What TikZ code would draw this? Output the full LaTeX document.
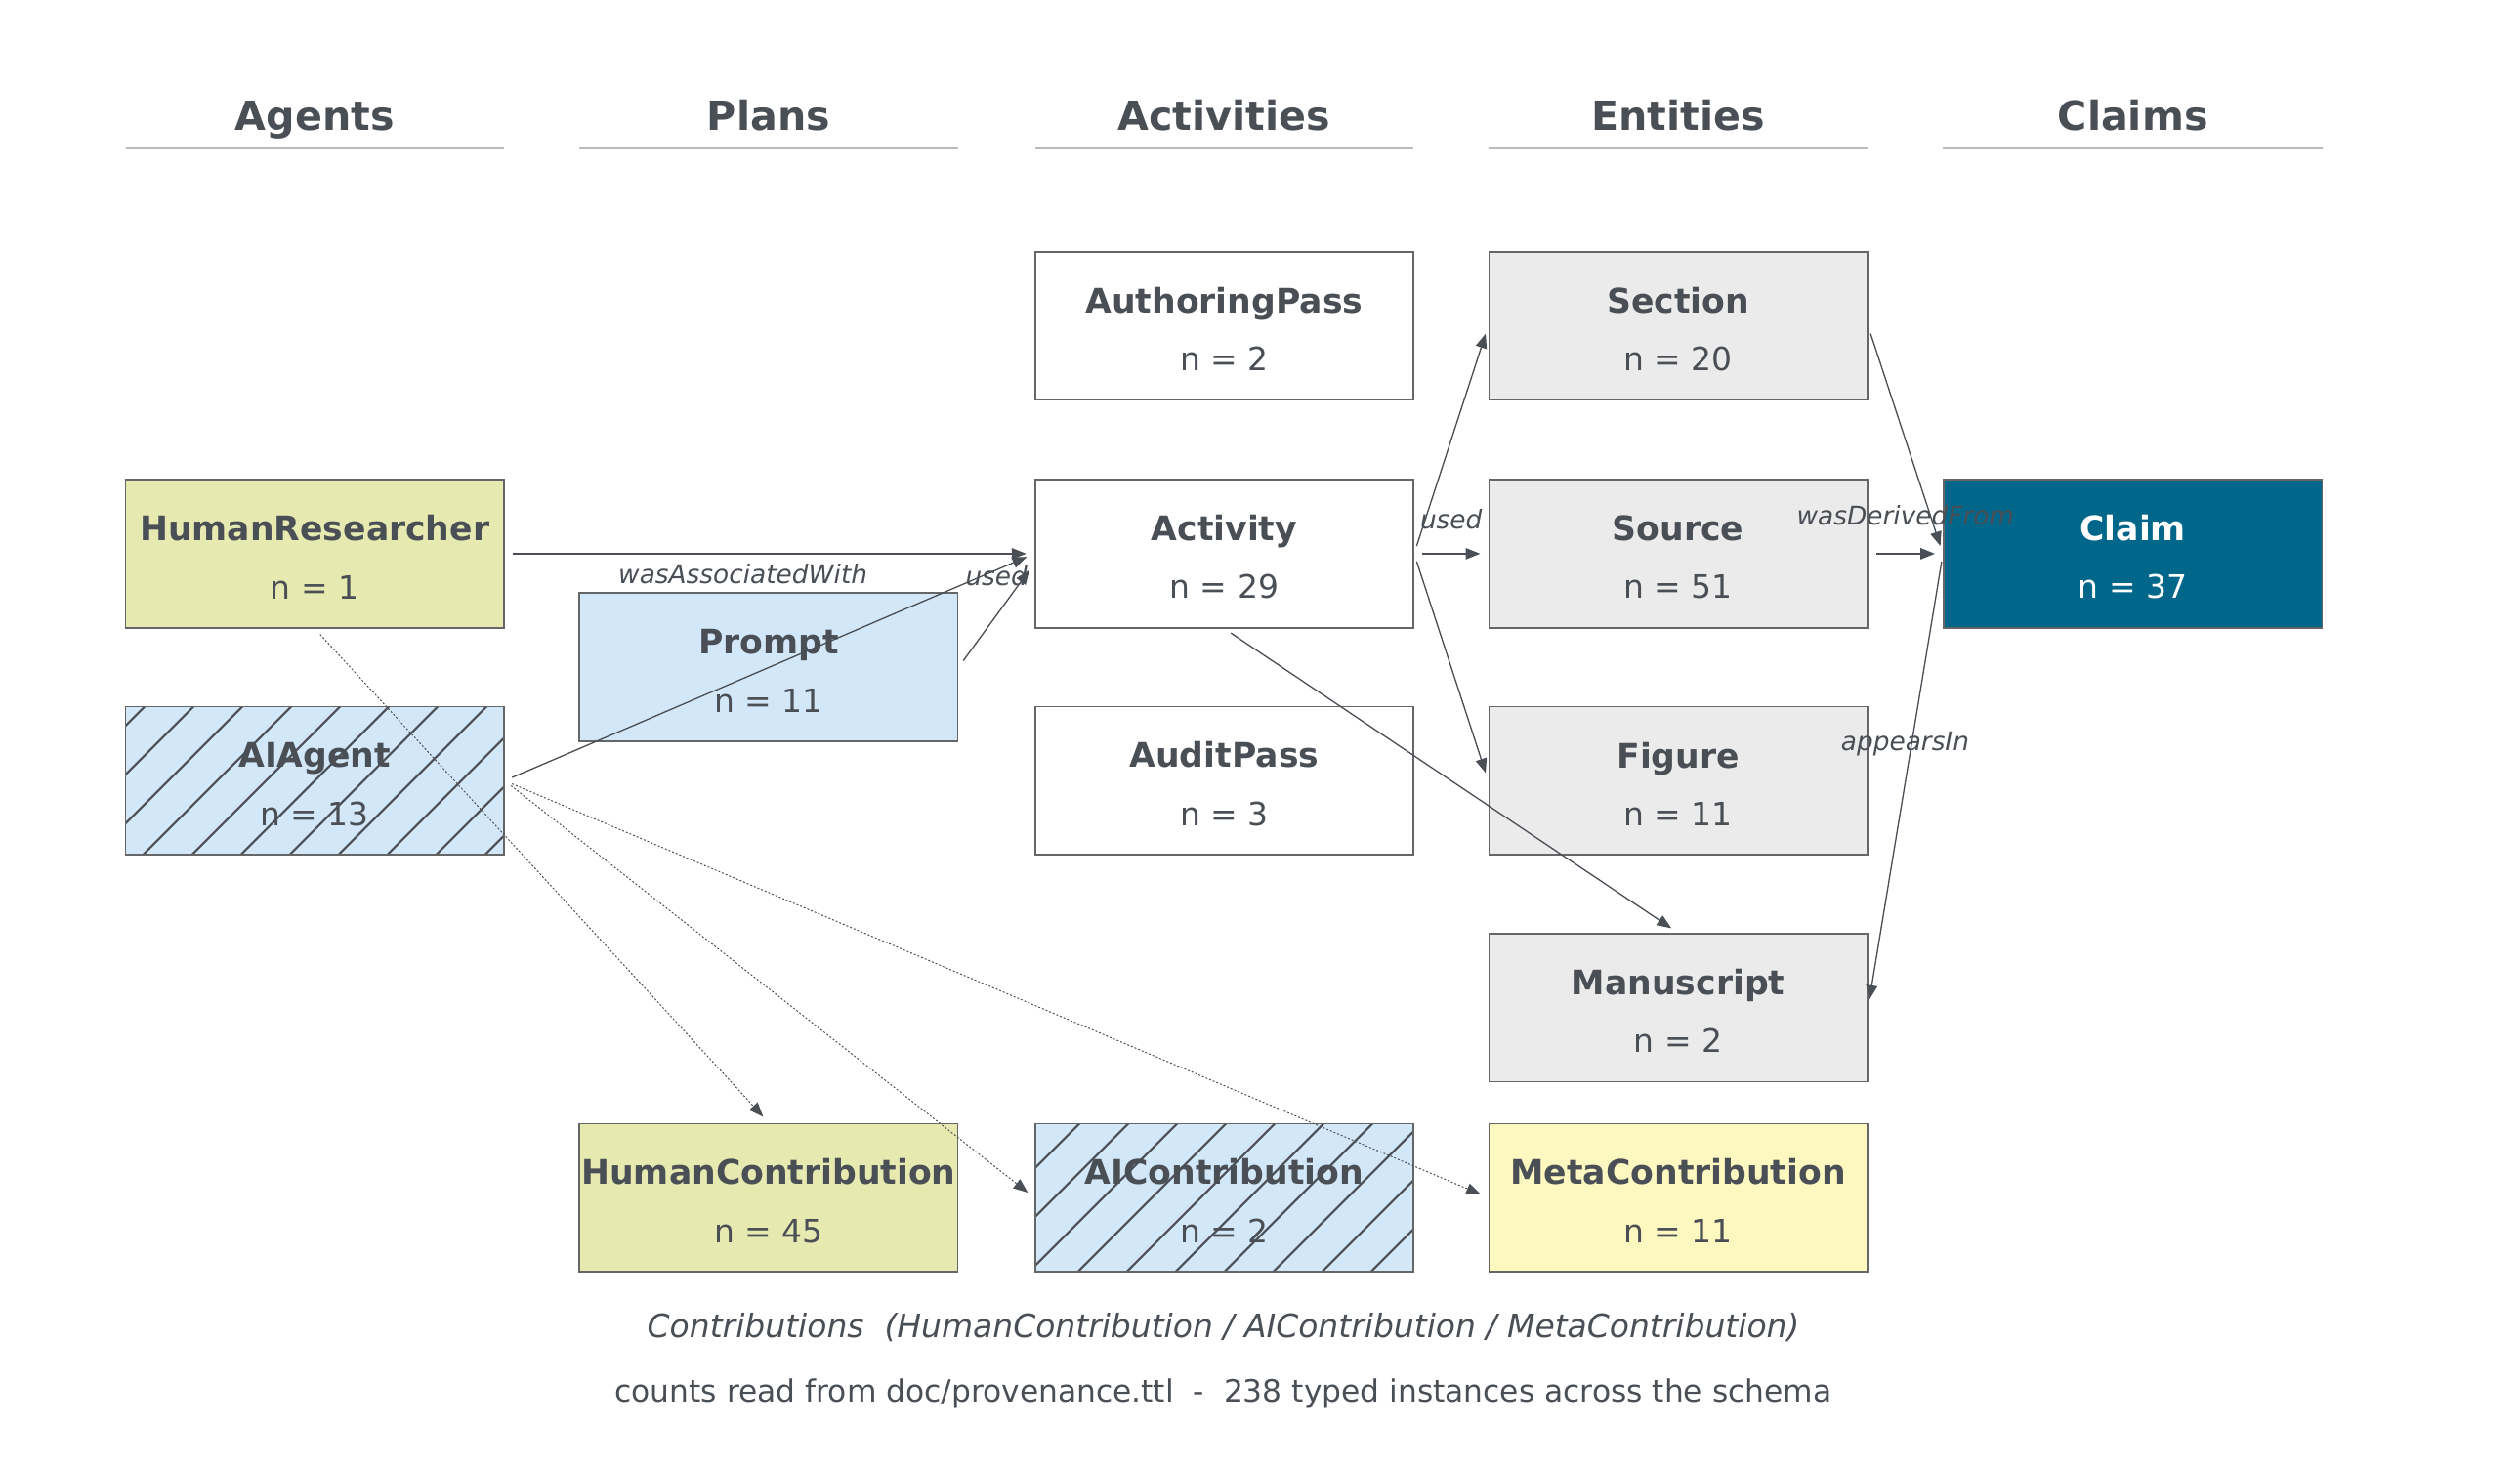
\documentclass[tikz,border=0pt]{standalone}
\usepackage{fontspec}
\setmainfont{DejaVu Sans}
\usetikzlibrary{arrows.meta}

\definecolor{ink}{HTML}{4A4F55}
\definecolor{frame}{HTML}{666666}
\definecolor{rulegray}{HTML}{BBBBBB}
\definecolor{humanfill}{HTML}{E6E9B0}
\definecolor{aifill}{HTML}{D2E7F8}
\definecolor{entityfill}{HTML}{EBEBEB}
\definecolor{claimfill}{HTML}{00668A}
\definecolor{metafill}{HTML}{FDF7C0}

\newcommand{\clsname}[1]{{\fontsize{21}{36}\selectfont\bfseries\rule{0pt}{20pt}#1}}

\begin{document}
\begin{tikzpicture}[x=1pt, y=-1pt]
  \tikzstyle{cls}=[rectangle, draw=frame, line width=1pt, fill=white, minimum width=235pt, minimum height=92pt, inner sep=0pt, text=ink, align=center, font=\fontsize{20}{36}\selectfont]
  % hatching: lines x + y = phase + k * 30.34 in the node's own frame
  \tikzset{hatched/.style={path picture={
      \foreach \k in {-7,...,7}
        \draw[draw=ink, line width=1.3pt] (#1+\k*30.34+150, -150) -- ++(-300, 300);
    }}}
  \tikzstyle{lane}=[font=\fontsize{25}{30}\selectfont\bfseries, text=ink, anchor=base]
  \tikzstyle{rule}=[draw=rulegray, line width=1.2pt]
  \tikzstyle{flow}=[draw=ink, line width=0.8pt, -{Triangle[length=9pt,width=7pt]}, shorten <=5pt, shorten >=5pt]
  \tikzstyle{credit}=[flow, line width=0.6pt, dash pattern=on 1.2pt off 1.2pt]
  \tikzstyle{rel}=[font=\fontsize{16}{19}\selectfont\itshape, text=ink, inner sep=2pt]

  \useasboundingbox (0,0) rectangle (1565.5,910.2);

  \node[lane] (hagents)     at (195.5,  81) {Agents};
  \node[lane] (hplans)      at (477.5,  81) {Plans};
  \node[lane] (hactivities) at (760.5,  81) {Activities};
  \node[lane] (hentities)   at (1042.5, 81) {Entities};
  \node[lane] (hclaims)     at (1325,   81) {Claims};

  \draw[rule] (78,   92) -- (313,  92);
  \draw[rule] (360,  92) -- (595,  92);
  \draw[rule] (643,  92) -- (878,  92);
  \draw[rule] (925,  92) -- (1160, 92);
  \draw[rule] (1207, 92) -- (1443, 92);

  \node[cls, fill=humanfill]             (hr)     at (195.5, 344)   {\clsname{HumanResearcher}\\n = 1};
  \node[cls, fill=aifill, hatched=19.5]  (ai)     at (195.5, 485)   {\clsname{AIAgent}\\n = 13};

  \node[cls, fill=aifill]                (prompt) at (477.5, 414.5) {\clsname{Prompt}\\n = 11};

  \node[cls]                             (pass)   at (760.5, 202.5) {\clsname{AuthoringPass}\\n = 2};
  \node[cls]                             (act)    at (760.5, 344)   {\clsname{Activity}\\n = 29};
  \node[cls]                             (audit)  at (760.5, 485)   {\clsname{AuditPass}\\n = 3};

  \node[cls, fill=entityfill]            (sec)    at (1042.5, 202.5) {\clsname{Section}\\n = 20};
  \node[cls, fill=entityfill]            (src)    at (1042.5, 344)   {\clsname{Source}\\n = 51};
  \node[cls, fill=entityfill]            (fig)    at (1042.5, 485)   {\clsname{Figure}\\n = 11};
  \node[cls, fill=entityfill]            (man)    at (1042.5, 626)   {\clsname{Manuscript}\\n = 2};

  \node[cls, fill=claimfill, text=white] (claim)  at (1325, 344)     {\clsname{Claim}\\n = 37};

  \node[cls, fill=humanfill]             (hc)     at (477.5,  744) {\clsname{HumanContribution}\\n = 45};
  \node[cls, fill=aifill, hatched=13.7]  (aic)    at (760.5,  744) {\clsname{AIContribution}\\n = 2};
  \node[cls, fill=metafill]              (meta)   at (1042.5, 744) {\clsname{MetaContribution}\\n = 11};

  \path (hr.east)     edge[flow] node[rel, below=4pt, pos=0.45] {wasAssociatedWith} (act.west);
  \path (ai.east)     edge[flow] (act.west);
  \path (prompt.east) edge[flow] node[rel, pos=0.82, xshift=-15pt, yshift=4pt] {used} ([yshift=-6pt]act.west);

  \path (act.east)    edge[flow] (sec.west);
  \path (act.east)    edge[flow] node[rel, above=13pt] {used} (src.west);
  \path (act.east)    edge[flow] (fig.west);
  \path (act.south)   edge[flow] (man.north);

  \path (sec.east)    edge[flow] (claim.west);
  \path (src.east)    edge[flow] node[rel, above=15pt] {wasDerivedFrom} (claim.west);
  \path (claim.west)  edge[flow] node[rel, pos=0.42, xshift=-4pt] {appearsIn} (man.east);

  \path (hr.south)    edge[credit] (hc.north);
  \path (ai.east)     edge[credit] (aic.west);
  \path (ai.east)     edge[credit] (meta.west);

  \node[text=ink, font=\fontsize{20}{24}\selectfont\itshape] (caption) at (760, 825)
    {Contributions\ \ (HumanContribution / AIContribution / MetaContribution)};
  \node[text=ink, font=\fontsize{19}{23}\selectfont] (counts) at (760, 866)
    {counts read from doc/provenance.ttl\ \ -\ \ 238 typed instances across the schema};

\end{tikzpicture}
\end{document}
